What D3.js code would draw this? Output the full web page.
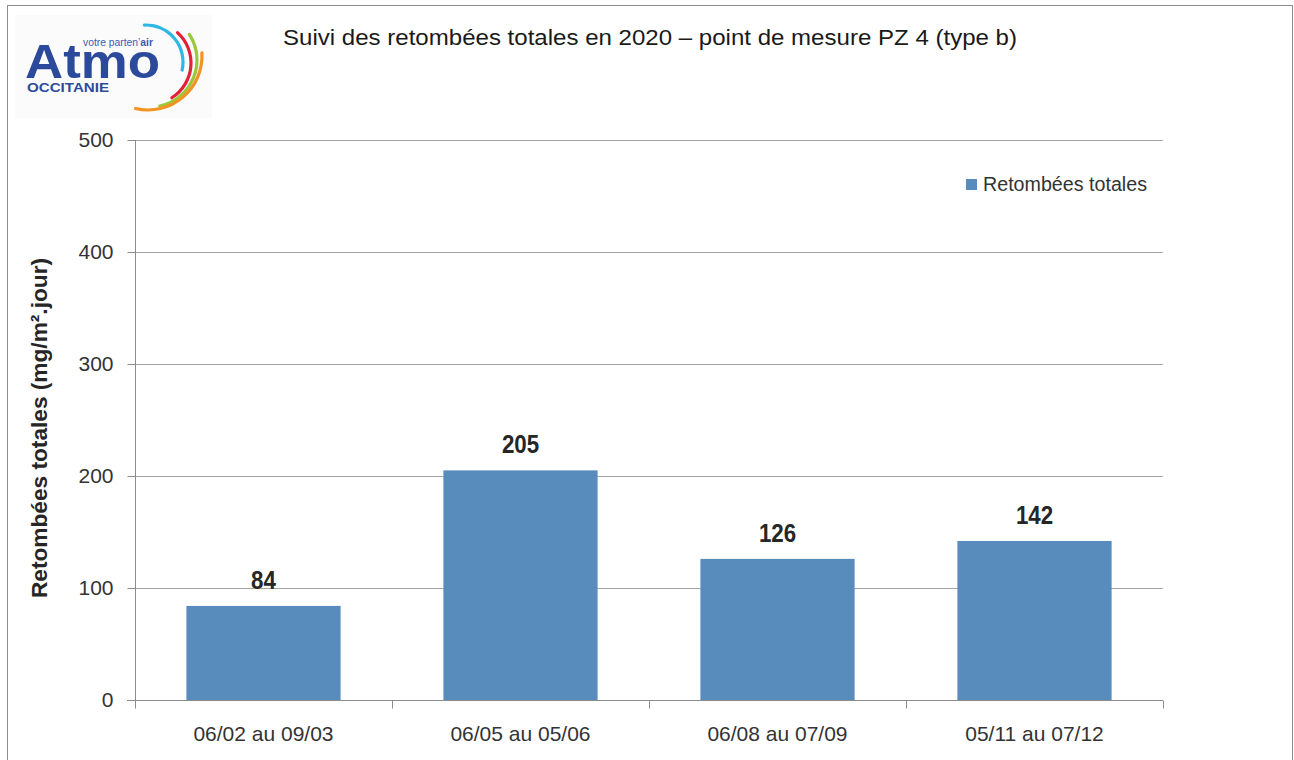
<!DOCTYPE html>
<html>
<head>
<meta charset="utf-8">
<script src="https://cdn.jsdelivr.net/npm/d3@7"></script>
<style>
  body { margin: 0; background: #fff; }
  svg { display: block; font-family: "Liberation Sans", Arial, sans-serif; }
</style>
</head>
<body>
<div id="chart"></div>
<script>
const periods = ['06/02 au 09/03', '06/05 au 05/06', '06/08 au 07/09', '05/11 au 07/12'];
const retombees = [84, 205, 126, 142];
const yTicks = [0, 100, 200, 300, 400, 500];

const width = 1294, height = 760;
const margin = {left: 135, right: 131, top: 140, bottom: 60};
const barColor = '#588cbc';

const svg = d3.select('#chart').append('svg')
  .attr('width', width)
  .attr('height', height);

// cadre
svg.append('rect')
  .attr('x', 7.5).attr('y', 5.5)
  .attr('width', 1285).attr('height', 780)
  .attr('fill', '#fff')
  .attr('stroke', '#8c8c8c');

const x = d3.scaleBand()
  .domain(periods)
  .range([margin.left, width - margin.right])
  .paddingInner(0.4)
  .paddingOuter(0.2);

const y = d3.scaleLinear()
  .domain([0, 500])
  .range([height - margin.bottom, margin.top]);

// grille
svg.append('g')
  .selectAll('line')
  .data(yTicks.filter(d => d > 0))
  .join('line')
    .attr('x1', margin.left).attr('x2', width - margin.right)
    .attr('y1', d => Math.round(y(d)) + 0.5)
    .attr('y2', d => Math.round(y(d)) + 0.5)
    .attr('stroke', '#a6a6a6');

// barres
svg.append('g')
  .selectAll('rect')
  .data(retombees)
  .join('rect')
    .attr('x', (d, i) => x(periods[i]))
    .attr('y', d => y(d))
    .attr('width', x.bandwidth())
    .attr('height', d => y(0) - y(d))
    .attr('fill', barColor);

// étiquettes de valeurs
svg.append('g')
  .selectAll('text')
  .data(retombees)
  .join('text')
    .attr('x', (d, i) => x(periods[i]) + x.bandwidth() / 2)
    .attr('y', d => y(d) - 17)
    .attr('text-anchor', 'middle')
    .attr('font-size', 25)
    .attr('font-weight', 'bold')
    .attr('fill', '#262626')
    .attr('textLength', d => String(d).length * 12.4)
    .attr('lengthAdjust', 'spacingAndGlyphs')
    .text(d => d);

// axe Y
const yAxis = svg.append('g')
  .attr('transform', `translate(${margin.left + 0.5},0)`)
  .call(d3.axisLeft(y).tickValues(yTicks).tickSize(8).tickPadding(14));
yAxis.select('.domain').attr('stroke', '#8c8c8c').attr('d', `M0,${margin.top}V${y(0) + 8}`);
yAxis.selectAll('.tick line').attr('stroke', '#8c8c8c');
yAxis.selectAll('.tick text')
  .attr('font-size', 21)
  .attr('fill', '#333')
  .attr('font-family', '"Liberation Sans", Arial, sans-serif');

// axe X
const xTicks = periods.map(p => x(p) - x.step() * x.paddingInner() / 2).concat([width - margin.right]);
const xAxis = svg.append('g')
  .attr('transform', `translate(0,${Math.round(y(0)) + 0.5})`);
xAxis.append('line')
  .attr('x1', margin.left - 8).attr('x2', width - margin.right)
  .attr('stroke', '#8c8c8c');
xAxis.selectAll('.xt')
  .data(xTicks)
  .join('line')
    .attr('class', 'xt')
    .attr('x1', d => Math.round(d) + 0.5).attr('x2', d => Math.round(d) + 0.5)
    .attr('y1', 0).attr('y2', 8)
    .attr('stroke', '#8c8c8c');
xAxis.selectAll('text')
  .data(periods)
  .join('text')
    .attr('x', d => x(d) + x.bandwidth() / 2)
    .attr('y', 40)
    .attr('text-anchor', 'middle')
    .attr('font-size', 21)
    .attr('fill', '#333')
    .text(d => d);

// titre axe Y
svg.append('text')
  .attr('transform', `translate(47,${(y(0) + 150) / 2 + 3}) rotate(-90)`)
  .attr('text-anchor', 'middle')
  .attr('font-size', 22)
  .attr('font-weight', 'bold')
  .attr('fill', '#262626')
  .attr('textLength', 340)
  .attr('lengthAdjust', 'spacingAndGlyphs')
  .text('Retombées totales  (mg/m².jour)');

// titre
svg.append('text')
  .attr('x', 650)
  .attr('y', 45)
  .attr('text-anchor', 'middle')
  .attr('font-size', 22)
  .attr('fill', '#1a1a1a')
  .attr('textLength', 734)
  .attr('lengthAdjust', 'spacingAndGlyphs')
  .text('Suivi des retombées totales en 2020 – point de mesure PZ 4 (type b)');

// légende
const legend = svg.append('g').attr('transform', 'translate(966,179)');
legend.append('rect').attr('width', 11).attr('height', 11).attr('fill', barColor);
legend.append('text')
  .attr('x', 17).attr('y', 12)
  .attr('font-size', 20)
  .attr('fill', '#333')
  .attr('textLength', 164)
  .attr('lengthAdjust', 'spacingAndGlyphs')
  .text('Retombées totales');

// logo Atmo Occitanie
const logo = svg.append('g');
logo.append('rect')
  .attr('x', 15).attr('y', 15).attr('width', 197).attr('height', 103)
  .attr('fill', '#fbfbfb');
logo.append('text')
  .attr('x', 25).attr('y', 78)
  .attr('font-size', 48).attr('font-weight', 'bold')
  .attr('fill', '#2b4a9b')
  .attr('textLength', 135)
  .attr('lengthAdjust', 'spacingAndGlyphs')
  .text('Atmo');
logo.append('text')
  .attr('x', 83).attr('y', 46)
  .attr('font-size', 10)
  .attr('fill', '#3a5bb0')
  .attr('textLength', 70)
  .attr('lengthAdjust', 'spacingAndGlyphs')
  .html('votre parten\u2019<tspan font-weight="bold">air</tspan>');
logo.append('text')
  .attr('x', 27).attr('y', 92)
  .attr('font-size', 13).attr('font-weight', 'bold')
  .attr('fill', '#2b4a9b')
  .attr('textLength', 82)
  .attr('lengthAdjust', 'spacingAndGlyphs')
  .text('OCCITANIE');

const arcs = [
  {c: '#2fb6e4', cx: 146, cy: 62, r: 37, a0: -5, a1: 105},
  {c: '#e3203a', cx: 150, cy: 63, r: 41, a0: 40, a1: 150},
  {c: '#9cc73a', cx: 150, cy: 60, r: 47, a0: 55, a1: 170},
  {c: '#f39323', cx: 148, cy: 56, r: 54, a0: 85, a1: 195}
];
logo.selectAll('path')
  .data(arcs)
  .join('path')
    .attr('transform', d => `translate(${d.cx},${d.cy})`)
    .attr('d', d => d3.arc()
      .innerRadius(d.r - 1.6).outerRadius(d.r + 1.6)
      .startAngle(d.a0 * Math.PI / 180).endAngle(d.a1 * Math.PI / 180)
      .cornerRadius(1.5)())
    .attr('fill', d => d.c);
</script>
</body>
</html>
